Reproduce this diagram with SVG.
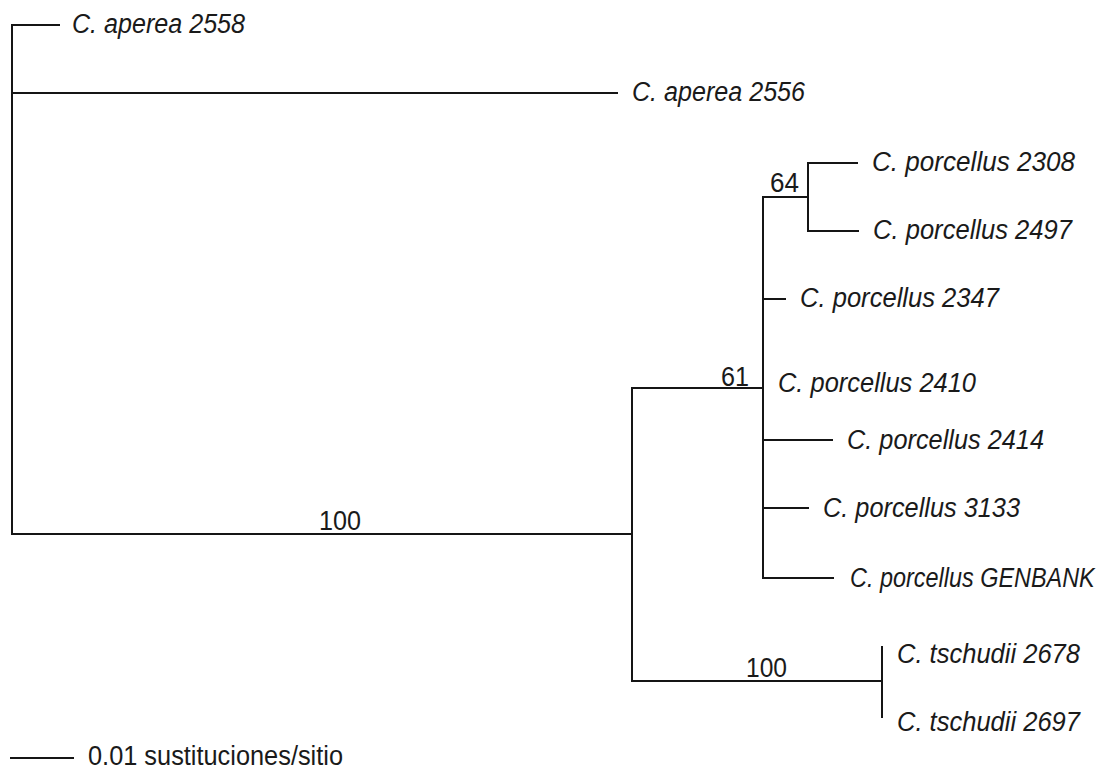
<svg xmlns="http://www.w3.org/2000/svg" width="1106" height="772" viewBox="0 0 1106 772">
  <style>
    .br { stroke: #151515; stroke-width: 2; fill: none; stroke-linecap: square; }
    .tx { font-family: "Liberation Sans", Arial, sans-serif; font-size: 27px; font-style: italic; fill: #1a1a1a; }
    .bs { font-family: "Liberation Sans", Arial, sans-serif; font-size: 27px; fill: #1a1a1a; }
  </style>
  <rect width="1106" height="772" fill="#ffffff"/>

  <!-- tree branches -->
  <g id="connectors">
    <!-- root -->
    <path class="br" d="M12,25 V534"/>
    <path class="br" d="M12,25 H59"/>
    <path class="br" d="M12,93 H617"/>
    <path class="br" d="M12,534 H632"/>
    <!-- ingroup node -->
    <path class="br" d="M632,388 V681"/>
    <path class="br" d="M632,388 H763"/>
    <path class="br" d="M632,681 H882"/>
    <!-- porcellus clade -->
    <path class="br" d="M763,197 V578"/>
    <path class="br" d="M763,197 H808"/>
    <path class="br" d="M808,163 V231"/>
    <path class="br" d="M808,163 H857"/>
    <path class="br" d="M808,231 H858"/>
    <path class="br" d="M763,299 H785"/>
    <path class="br" d="M763,440 H832"/>
    <path class="br" d="M763,508 H808"/>
    <path class="br" d="M763,578 H833"/>
    <!-- tschudii clade -->
    <path class="br" d="M882,647 V717"/>
    <!-- scale bar -->
    <path class="br" d="M11,758 H73"/>
  </g>

  <!-- taxa -->
  <g id="aperea-2558"><text class="tx" x="72" y="33" textLength="173" lengthAdjust="spacingAndGlyphs">C. aperea 2558</text></g>
  <g id="aperea-2556"><text class="tx" x="632" y="101" textLength="173" lengthAdjust="spacingAndGlyphs">C. aperea 2556</text></g>
  <g id="porcellus-2308"><text class="tx" x="872" y="171" textLength="203" lengthAdjust="spacingAndGlyphs">C. porcellus 2308</text></g>
  <g id="porcellus-2497"><text class="tx" x="873" y="239" textLength="199" lengthAdjust="spacingAndGlyphs">C. porcellus 2497</text></g>
  <g id="porcellus-2347"><text class="tx" x="800" y="307" textLength="199" lengthAdjust="spacingAndGlyphs">C. porcellus 2347</text></g>
  <g id="porcellus-2410"><text class="tx" x="778" y="392" textLength="198" lengthAdjust="spacingAndGlyphs">C. porcellus 2410</text></g>
  <g id="porcellus-2414"><text class="tx" x="847" y="449" textLength="197" lengthAdjust="spacingAndGlyphs">C. porcellus 2414</text></g>
  <g id="porcellus-3133"><text class="tx" x="823" y="517" textLength="197" lengthAdjust="spacingAndGlyphs">C. porcellus 3133</text></g>
  <!-- the widest label is narrowed with a horizontal scale so it stays inside the frame -->
  <g id="porcellus-genbank"><text class="tx" transform="translate(850,587) scale(0.868,1)" x="0" y="0">C. porcellus GENBANK</text></g>
  <g id="tschudii-2678"><text class="tx" x="897" y="663" textLength="183" lengthAdjust="spacingAndGlyphs">C. tschudii 2678</text></g>
  <g id="tschudii-2697"><text class="tx" x="897" y="731" textLength="183" lengthAdjust="spacingAndGlyphs">C. tschudii 2697</text></g>

  <!-- bootstrap support -->
  <g id="support">
    <text class="bs" x="319" y="530" textLength="42" lengthAdjust="spacingAndGlyphs">100</text>
    <text class="bs" x="721" y="386" textLength="28" lengthAdjust="spacingAndGlyphs">61</text>
    <text class="bs" x="770" y="192" textLength="29" lengthAdjust="spacingAndGlyphs">64</text>
    <text class="bs" x="746" y="677" textLength="41" lengthAdjust="spacingAndGlyphs">100</text>
  </g>

  <g id="scale"><text class="bs" x="88" y="765" textLength="255" lengthAdjust="spacingAndGlyphs">0.01 sustituciones/sitio</text></g>
</svg>
